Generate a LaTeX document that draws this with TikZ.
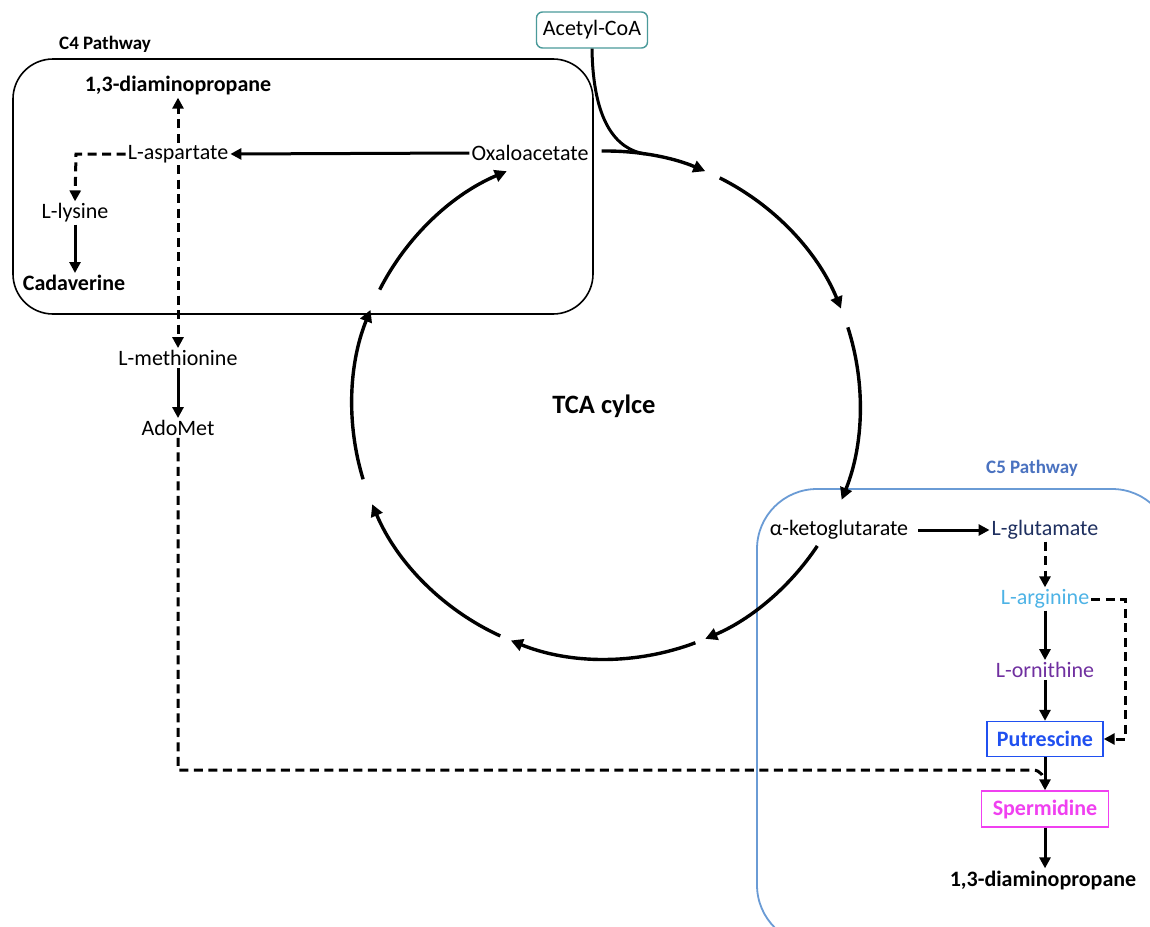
\documentclass[tikz,border=0pt]{standalone}
\usepackage{fontspec}
\setmainfont{Carlito}
\usetikzlibrary{arrows.meta}
\definecolor{acetylc}{HTML}{4A9A9A}
\definecolor{cfivebox}{HTML}{6A9BD5}
\definecolor{cfivetxt}{HTML}{4A72C0}
\definecolor{glucol}{HTML}{1F3060}
\definecolor{argcol}{HTML}{4DB3E6}
\definecolor{orncol}{HTML}{7030A0}
\definecolor{putcol}{HTML}{2050F0}
\definecolor{spmcol}{HTML}{F040F0}
\begin{document}
\begin{tikzpicture}[x=1pt,y=1pt,
  lbl/.style={font=\fontsize{22}{24}\selectfont, inner sep=2pt},
  blbl/.style={font=\fontsize{22}{24}\selectfont\bfseries, inner sep=2pt},
  ttl/.style={font=\fontsize{19}{21}\selectfont\bfseries, inner sep=2pt},
  arr/.style={line width=3pt, -{Triangle[length=11pt,width=11pt]}},
  darr/.style={arr, dash pattern=on 9pt off 5.5pt},
  dline/.style={line width=3pt, dash pattern=on 9pt off 5.5pt},
  cyc/.style={line width=3.4pt, -{Triangle[length=12pt,width=12pt]}}]

\path[use as bounding box, clip] (0,0) rectangle (1150,-926);
\fill[white] (0,0) rectangle (1150,-926);

% pathway boxes
\draw[line width=1.6pt, rounded corners=40pt] (13,-59) rectangle (593,-314);
\draw[cfivebox, line width=1.8pt, rounded corners=60pt] (757,-489) rectangle (1172,-945);

% titles
\node[ttl] (c4) at (105,-44) {C4 Pathway};
\node[ttl, text=cfivetxt] (c5) at (1032,-468) {C5 Pathway};

% C4 nodes
\node[blbl] (dapa) at (178,-86) {1,3-diaminopropane};
\node[lbl] (asp) at (178,-154) {L-aspartate};
\node[lbl] (oxa) at (530,-153) {Oxaloacetate};
\node[lbl] (lys) at (75,-213) {L-lysine};
\node[blbl] (cad) at (74,-283) {Cadaverine};
\node[lbl] (met) at (178,-358) {L-methionine};
\node[lbl] (ado) at (178,-428) {AdoMet};
\node[lbl, draw=acetylc, line width=1.4pt, rounded corners=6pt, minimum width=111pt, minimum height=36pt] (acet) at (592,-30) {Acetyl-CoA};
\node[font=\fontsize{26.5}{28}\selectfont\bfseries] (tca) at (604,-406) {TCA cylce};

% C5 nodes
\node[lbl] (akg) at (839,-530) {α-ketoglutarate};
\node[lbl, text=glucol] (glu) at (1045,-530) {L-glutamate};
\node[lbl, text=argcol] (arg) at (1045,-599) {L-arginine};
\node[lbl, text=orncol] (orn) at (1045,-670) {L-ornithine};
\node[blbl, text=putcol, draw=putcol, line width=1.4pt, minimum width=116pt, minimum height=35pt] (put) at (1045,-739) {Putrescine};
\node[blbl, text=spmcol, draw=spmcol, line width=1.4pt, minimum width=127pt, minimum height=36pt] (spm) at (1045,-809) {Spermidine};
\node[blbl] (dapb) at (1043,-880) {1,3-diaminopropane};

% TCA cycle arcs
\coordinate (O) at (606,-405);
\foreach \a/\b in {91/67, 63.4/22.3, 17.8/-21.9, -33.7/-67, -69.4/-112, -114.6/-157, -163/-202, -207/-247}{
  \draw[cyc] ([shift={(\a:254pt)}]O) arc[start angle=\a, end angle=\b, radius=254pt];
}

% acetyl-CoA joining the cycle
\coordinate (join) at (645,-154);
\draw[line width=3pt] (acet.south) .. controls (593,-120) and (615,-149) .. (join);

% C4 connectors
\draw[arr] (oxa.west) -- (asp.east);
\coordinate (aspL) at (76,-154);
\draw[darr] (asp.west) -- (aspL) -- (lys.north);
\draw[arr] (lys.south) -- (cad.north -| lys.south);
\draw[darr] (asp.north) -- (dapa.south);
\draw[darr] (asp.south) -- (met.north);
\draw[arr] (met.south) -- (ado.north -| met.south);

% C5 connectors
\draw[arr] (akg.east) ++(8,0) -- (glu.west);
\draw[darr] (glu.south) -- (arg.north);
\draw[arr] (arg.south) -- (orn.north);
\draw[arr] (orn.south) -- (put.north);
\coordinate (argR) at (1125,-599);
\draw[darr] (arg.east) -- (argR) |- (put.east);
\draw[arr] (put.south) -- (spm.north);
\draw[arr] (spm.south) -- (dapb.north -| spm.south);

% AdoMet to spermidine
\coordinate (adoC) at (178,-770);
\coordinate (adoJ) at (1033,-770);
\coordinate (adoM) at (1045,-784);
\draw[dline] (ado.south) -- (adoC) -- (adoJ) to[out=0,in=90] (adoM);
\end{tikzpicture}
\end{document}
